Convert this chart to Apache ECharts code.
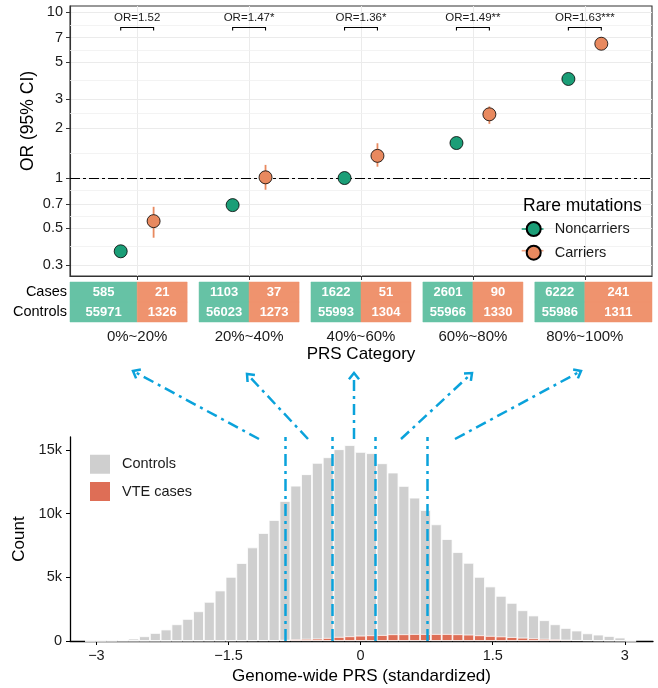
<!DOCTYPE html>
<html><head><meta charset="utf-8">
<script src="https://cdn.jsdelivr.net/npm/echarts@6/dist/echarts.min.js"></script>
<style>html,body{margin:0;padding:0;background:#fff}#c{width:658px;height:688px}</style>
</head><body><div id="c"></div>
<script>
// ---------------- data ----------------
const categories = ['0%~20%', '20%~40%', '40%~60%', '60%~80%', '80%~100%'];
const orLabels = ['OR=1.52', 'OR=1.47*', 'OR=1.36*', 'OR=1.49**', 'OR=1.63***'];
const orNoncarriers = [0.362, 0.687, 1.0, 1.625, 3.95];
const ciNoncarriersLow = [0.34, 0.655, 1.0, 1.565, 3.82];
const ciNoncarriersHigh = [0.385, 0.72, 1.0, 1.69, 4.09];
const orCarriers = [0.55, 1.01, 1.36, 2.42, 6.44];
const ciCarriersLow = [0.437, 0.85, 1.17, 2.12, 5.98];
const ciCarriersHigh = [0.671, 1.20, 1.62, 2.70, 7.07];
const casesNoncarriers = [585, 1103, 1622, 2601, 6222];
const casesCarriers = [21, 37, 51, 90, 241];
const controlsNoncarriers = [55971, 56023, 55993, 55966, 55986];
const controlsCarriers = [1326, 1273, 1304, 1330, 1311];
const orTicks = [0.3, 0.5, 0.7, 1, 2, 3, 5, 7, 10];
const tableRows = ['Controls', 'Cases'];

const binCenters = [-3.068,-2.945,-2.822,-2.699,-2.577,-2.454,-2.331,-2.209,-2.086,-1.963,-1.841,-1.718,-1.595,-1.472,-1.350,-1.227,-1.104,-0.982,-0.859,-0.736,-0.614,-0.491,-0.368,-0.245,-0.123,0,0.123,0.245,0.368,0.491,0.614,0.736,0.859,0.982,1.104,1.227,1.350,1.472,1.595,1.718,1.841,1.963,2.086,2.209,2.331,2.454,2.577,2.699,2.822,2.945,3.068];
const controlsCounts = [10,20,40,80,190,370,630,900,1310,1730,2330,3070,3960,5030,6110,7340,8470,9490,10980,12180,13080,13970,14410,15040,15360,14830,14730,13940,13210,12160,11240,10270,9150,7990,6970,6130,5030,4275,3540,2990,2410,2000,1630,1310,1020,820,600,500,390,270,30];
const vteCounts = [0,1,2,3,5,7,9,12,15,20,25,30,35,40,45,50,55,60,90,130,170,190,240,320,370,420,450,470,530,530,550,550,550,550,530,500,450,400,360,310,260,210,170,130,100,75,55,40,28,18,5];
const quantileCuts = [-0.86, -0.32, 0.17, 0.76];
const histTicks = [-3, -1.5, 0, 1.5, 3];
const countTicks = [0, 5000, 10000, 15000];

// ---------------- style / layout ----------------
const FONT = 'Liberation Sans, Arial, Helvetica, sans-serif';
const COL = {green:'#1B9E77', orange:'#E8895F', orangeLight:'#F2A483', tGreen:'#66C2A5', tOrange:'#EF936E',
             grey:'#CFCFCF', red:'#DE6E56', blue:'#0AA2DB', text:'#1a1a1a', grid:'#EBEBEB'};
const dodge = 0.147, halfCell = 0.447, xMinTop = 0.4, xMaxTop = 5.6;
const bracketTop = 8.07, bracketFoot = 7.74;
const histMin = -3.3, histMax = 3.32, histLeft = 70, histRight = 5;
const minorGrid = orTicks.slice(1).map((v, i) => Math.sqrt(v * orTicks[i]));

const tableCells = [];
categories.forEach((c, i) => {
  const cx = i + 1;
  const gx0 = i === 0 ? xMinTop : cx - halfCell;
  const ox1 = i === categories.length - 1 ? xMaxTop : cx + halfCell;
  tableCells.push([gx0, cx, 1, casesNoncarriers[i], 0]);
  tableCells.push([cx, ox1, 1, casesCarriers[i], 1]);
  tableCells.push([gx0, cx, 0, controlsNoncarriers[i], 0]);
  tableCells.push([cx, ox1, 0, controlsCarriers[i], 1]);
});

const chart = echarts.init(document.getElementById('c'), null, {renderer: 'canvas', width: 658, height: 688});
const histGridWidth = 658 - histLeft - histRight;
const barW = (binCenters[1] - binCenters[0]) / (histMax - histMin) * histGridWidth;

function errRender(color) {
  return function (params, api) {
    const p1 = api.coord([api.value(0), api.value(1)]);
    const p2 = api.coord([api.value(0), api.value(2)]);
    return {type: 'line', shape: {x1: p1[0], y1: p1[1], x2: p2[0], y2: p2[1]}, style: {stroke: color, lineWidth: 1.8}};
  };
}

function arrow(t, h) {
  const ang = Math.atan2(h[1] - t[1], h[0] - t[0]);
  const L = 8, a = 0.68;
  return [
    {type: 'line', shape: {x1: t[0], y1: t[1], x2: h[0], y2: h[1]}, style: {stroke: COL.blue, lineWidth: 2.5, lineDash: [11, 5, 3, 5]}},
    {type: 'polyline', shape: {points: [[h[0] - L * Math.cos(ang - a), h[1] - L * Math.sin(ang - a)], [h[0], h[1]], [h[0] - L * Math.cos(ang + a), h[1] - L * Math.sin(ang + a)]]},
     style: {stroke: COL.blue, lineWidth: 2.5, fill: null}}
  ];
}
const arrowTails = [[259, 439], [308, 439], [354, 439], [401, 439], [455, 439]];
const arrowTips = [[133, 371], [247, 374], [354, 373], [472, 373], [581, 371]];
let arrowEls = [];
arrowTails.forEach((t, i) => { arrowEls = arrowEls.concat(arrow(t, arrowTips[i])); });

const option = {
  animation: false,
  textStyle: {fontFamily: FONT},
  title: {text: 'Rare mutations', left: 523, top: 197, padding: 0,
          textStyle: {fontSize: 17.5, fontWeight: 'normal', color: '#000', fontFamily: FONT}},
  legend: [
    {data: ['Noncarriers', 'Carriers'], orient: 'vertical', left: 525.7, top: 221, padding: 0, z: 6,
     itemWidth: 14, itemHeight: 14, itemGap: 7.7, selectedMode: false,
     textStyle: {fontSize: 14.5, color: COL.text, padding: [0, 0, 0, 9]}},
    {data: ['Controls', 'VTE cases'], orient: 'vertical', left: 88, top: 452.7, padding: 0,
     itemWidth: 22, itemHeight: 21, itemGap: 4.3, icon: 'rect', selectedMode: false,
     textStyle: {fontSize: 14.5, color: COL.text, padding: [0, 0, 0, 6]}}
  ],
  grid: [
    {left: 70, right: 6, top: 6, height: 270, show: true, borderColor: '#333', borderWidth: 1.1, backgroundColor: '#fff', outerBoundsMode: 'none'},
    {left: 70, right: 6, top: 282, height: 40, outerBoundsMode: 'none'},
    {left: histLeft, right: histRight, top: 437, height: 204, outerBoundsMode: 'none'}
  ],
  xAxis: [
    {gridIndex: 0, type: 'value', min: xMinTop, max: xMaxTop,
     axisLine: {show: true, onZero: false, lineStyle: {color: '#333', width: 1.1}},
     axisTick: {show: true, customValues: [1, 2, 3, 4, 5], length: 4, lineStyle: {color: '#333'}},
     axisLabel: {customValues: [1, 2, 3, 4, 5], formatter: v => categories[Math.round(v) - 1], margin: 53, fontSize: 15, color: COL.text},
     splitLine: {show: true, lineStyle: {color: COL.grid, width: 1}},
     name: 'PRS Category', nameLocation: 'middle', nameGap: 70, nameTextStyle: {fontSize: 17, color: '#000'}},
    {gridIndex: 1, type: 'value', min: xMinTop, max: xMaxTop, show: false},
    {gridIndex: 2, type: 'value', min: histMin, max: histMax,
     axisLine: {show: true, onZero: false, lineStyle: {color: '#000', width: 1.3}},
     axisTick: {show: true, customValues: histTicks, length: 4, lineStyle: {color: '#000'}},
     axisLabel: {customValues: histTicks, formatter: v => (v < 0 ? '\u2212' + Math.abs(v) : String(v)), margin: 7, fontSize: 14.5, color: COL.text},
     splitLine: {show: false},
     name: 'Genome-wide PRS (standardized)', nameLocation: 'middle', nameGap: 27, nameTextStyle: {fontSize: 17, color: '#000'}}
  ],
  yAxis: [
    {gridIndex: 0, type: 'log', logBase: 10, min: 0.257, max: 10.87,
     axisLine: {show: true, onZero: false, lineStyle: {color: '#333', width: 1.1}},
     axisTick: {show: true, customValues: orTicks, length: 4, lineStyle: {color: '#333'}},
     axisLabel: {customValues: orTicks, formatter: v => String(+(+v).toFixed(2)), margin: 7, fontSize: 14.5, color: COL.text},
     splitLine: {show: true, lineStyle: {color: COL.grid, width: 1}}},
    {gridIndex: 1, type: 'category', data: tableRows,
     axisLine: {show: false, onZero: false}, axisTick: {show: false},
     axisLabel: {fontSize: 14.5, margin: 3, color: '#000'}, splitLine: {show: false}},
    {gridIndex: 2, type: 'value', min: 0, max: 16000,
     axisLine: {show: true, onZero: false, lineStyle: {color: '#000', width: 1.3}},
     axisTick: {show: true, customValues: countTicks, length: 4, lineStyle: {color: '#000'}},
     axisLabel: {customValues: countTicks, formatter: v => (v === 0 ? '0' : (v / 1000) + 'k'), margin: 8, fontSize: 14.5, color: COL.text},
     splitLine: {show: false},
     name: 'Count', nameLocation: 'middle', nameGap: 36, nameTextStyle: {fontSize: 17, color: '#000'}}
  ],
  series: [
    {type: 'line', xAxisIndex: 0, yAxisIndex: 0, data: [], silent: true, z: 1,
     markLine: {silent: true, symbol: 'none', label: {show: false}, animation: false,
       lineStyle: {color: '#F0F0F0', width: 0.8, type: 'solid'},
       data: minorGrid.map(v => ({yAxis: v}))}},
    {type: 'line', xAxisIndex: 0, yAxisIndex: 0, data: [], silent: true, z: 2,
     markLine: {silent: true, symbol: 'none', label: {show: false}, animation: false,
       lineStyle: {color: '#000', width: 1.2, type: [10, 3, 3, 3]},
       data: [{yAxis: 1}]}},
    {type: 'custom', name: 'ciNon', xAxisIndex: 0, yAxisIndex: 0, z: 3, silent: true,
     data: categories.map((c, i) => [i + 1 - dodge, ciNoncarriersLow[i], ciNoncarriersHigh[i]]),
     encode: {x: 0, y: [1, 2]}, renderItem: errRender(COL.green)},
    {type: 'custom', name: 'ciCar', xAxisIndex: 0, yAxisIndex: 0, z: 3, silent: true,
     data: categories.map((c, i) => [i + 1 + dodge, ciCarriersLow[i], ciCarriersHigh[i]]),
     encode: {x: 0, y: [1, 2]}, renderItem: errRender(COL.orange)},
    {type: 'scatter', name: 'Noncarriers', xAxisIndex: 0, yAxisIndex: 0, z: 5, symbol: 'circle', symbolSize: 13,
     itemStyle: {color: COL.green, borderColor: '#000', borderWidth: 0.8, opacity: 1},
     data: categories.map((c, i) => [i + 1 - dodge, orNoncarriers[i]])},
    {type: 'scatter', name: 'Carriers', xAxisIndex: 0, yAxisIndex: 0, z: 5, symbol: 'circle', symbolSize: 13,
     itemStyle: {color: COL.orange, borderColor: '#000', borderWidth: 0.8, opacity: 1},
     data: categories.map((c, i) => [i + 1 + dodge, orCarriers[i]])},
    {type: 'custom', name: 'brackets', xAxisIndex: 0, yAxisIndex: 0, z: 6, silent: true,
     data: categories.map((c, i) => [i + 1 - dodge, i + 1 + dodge, i]),
     encode: {x: [0, 1]},
     renderItem: function (params, api) {
       const a = api.coord([api.value(0), bracketTop]);
       const b = api.coord([api.value(1), bracketTop]);
       const aF = api.coord([api.value(0), bracketFoot]);
       const bF = api.coord([api.value(1), bracketFoot]);
       return {type: 'group', children: [
         {type: 'polyline', shape: {points: [aF, a, b, bF]}, style: {stroke: '#000', lineWidth: 1.1, fill: null}},
         {type: 'text', x: (a[0] + b[0]) / 2, y: a[1] - 3.5,
          style: {text: orLabels[api.value(2)], fontSize: 11.5, fontFamily: FONT, fill: COL.text, align: 'center', verticalAlign: 'bottom'}}
       ]};
     }},
    {type: 'custom', name: 'table', xAxisIndex: 1, yAxisIndex: 1, silent: true,
     data: tableCells, encode: {x: [0, 1], y: 2},
     renderItem: function (params, api) {
       const row = api.value(2);
       const pA = api.coord([api.value(0), row]);
       const pB = api.coord([api.value(1), row]);
       const h = api.size([0, 1])[1];
       const fill = api.value(4) === 0 ? COL.tGreen : COL.tOrange;
       return {type: 'group', children: [
         {type: 'rect', shape: {x: pA[0], y: pA[1] - h / 2, width: pB[0] - pA[0], height: h}, style: {fill: fill, stroke: fill, lineWidth: 0.5}},
         {type: 'text', x: (pA[0] + pB[0]) / 2, y: pA[1] + 0.5,
          style: {text: String(api.value(3)), fill: '#fff', fontSize: 13, fontWeight: 'bold', fontFamily: FONT, align: 'center', verticalAlign: 'middle'}}
       ]};
     }},
    {type: 'bar', name: 'Controls', xAxisIndex: 2, yAxisIndex: 2, barWidth: barW, barGap: '-100%',
     itemStyle: {color: COL.grey, borderColor: '#fff', borderWidth: 0.8},
     data: binCenters.map((x, i) => [x, controlsCounts[i]])},
    {type: 'bar', name: 'VTE cases', xAxisIndex: 2, yAxisIndex: 2, barWidth: barW, barGap: '-100%',
     itemStyle: {color: COL.red, borderColor: '#fff', borderWidth: 0.8},
     data: binCenters.map((x, i) => [x, vteCounts[i]]),
     markLine: {silent: true, symbol: 'none', label: {show: false}, animation: false,
       lineStyle: {color: COL.blue, width: 2.5, type: [12, 5, 3, 5]},
       data: quantileCuts.map(v => ({xAxis: v}))}}
  ],
  graphic: [
    {type: 'text', x: 28, y: 121, rotation: Math.PI / 2, z: 10,
     style: {text: 'OR (95% CI)', fontSize: 17.5, fontFamily: FONT, fill: '#000', align: 'center', verticalAlign: 'middle'}},
    {type: 'line', z: 3, shape: {x1: 521.7, y1: 229, x2: 543.5, y2: 229}, style: {stroke: COL.green, lineWidth: 1.6}},
    {type: 'line', z: 3, shape: {x1: 521.7, y1: 250.7, x2: 543.5, y2: 250.7}, style: {stroke: COL.orangeLight, lineWidth: 1.6}},
    {type: 'group', z: 10, children: arrowEls}
  ]
};
chart.setOption(option);
</script>
</body></html>
